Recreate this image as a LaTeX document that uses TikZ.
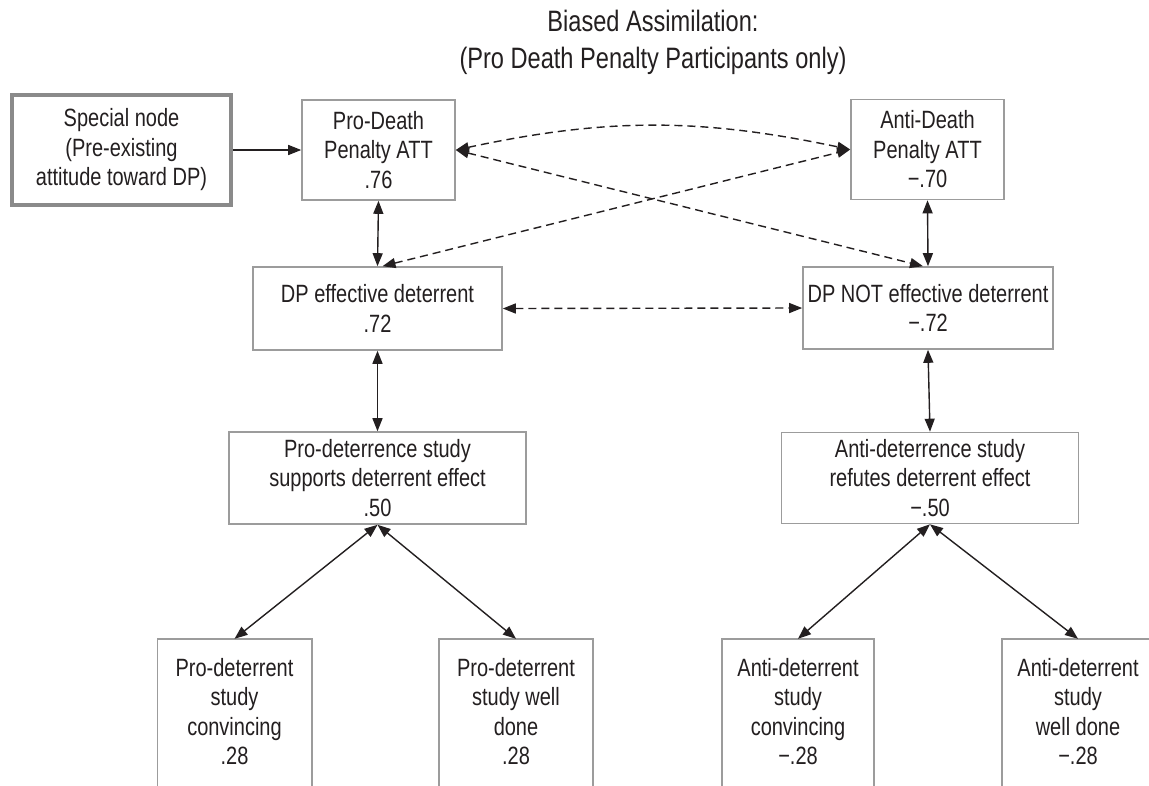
\documentclass[tikz,border=0pt]{standalone}
\usepackage{fontspec}
\setmainfont{Liberation Sans}[FakeStretch=0.8]
\usetikzlibrary{arrows.meta}
\definecolor{ink}{HTML}{231F20}
\definecolor{frame}{HTML}{9C9C9C}
\definecolor{heavyframe}{HTML}{8A8A8A}
\begin{document}
\begin{tikzpicture}[x=1pt,y=-1pt,
  >={Triangle[length=13pt,width=10pt]},
  every node/.style={text=ink, font=\fontsize{25}{29.5}\selectfont, align=center, inner sep=0pt},
  box/.style={draw=frame, line width=1.6pt},
  openframe/.style={draw=frame, line width=1.6pt},
  leaf/.style={minimum width=#1, minimum height=145pt},
  wire/.style={draw=ink, line width=1.4pt},
  dashwire/.style={wire, dash pattern=on 8pt off 5pt},
]
\useasboundingbox (0,0) rectangle (1149,785);
\fill[white] (0,0) rectangle (1149,785);

% heading
\node[font=\fontsize{29.5}{37}\selectfont] (title) at (653,42)
  {Biased Assimilation:\\(Pro Death Penalty Participants only)};

% attitude level
\node[draw=heavyframe, line width=3.8pt, minimum width=219pt, minimum height=110pt]
  (special) at (121.5,150) {Special node\\(Pre-existing\\attitude toward DP)};
\node[box, minimum width=153pt, minimum height=100pt] (prodp) at (378.5,150)
  {Pro-Death\\Penalty ATT\\.76};
\node[box, minimum width=153pt, minimum height=100pt] (antidp) at (927.5,149.5)
  {Anti-Death\\Penalty ATT\\−.70};

% belief level
\node[box, minimum width=249pt, minimum height=83pt] (dpeff) at (377.5,308.5)
  {DP effective deterrent\\.72};
\node[box, minimum width=250pt, minimum height=82pt] (dpnot) at (928,308)
  {DP NOT effective deterrent\\−.72};

% study level
\node[box, minimum width=297pt, minimum height=92pt] (prostudy) at (377.5,478)
  {Pro-deterrence study\\supports deterrent effect\\.50};
\node[box, minimum width=297pt, minimum height=91pt] (antistudy) at (930,478)
  {Anti-deterrence study\\refutes deterrent effect\\−.50};

% evaluation level (frames run off the lower edge)
\node[leaf=154pt] (pc1) at (234.5,711.5) {Pro-deterrent\\study\\convincing\\.28};
\node[leaf=154pt] (pc2) at (516,711.5) {Pro-deterrent\\study well\\done\\.28};
\node[leaf=152pt] (ac1) at (798,711.5) {Anti-deterrent\\study\\convincing\\−.28};
\node[leaf=152pt] (ac2) at (1078,711.5) {Anti-deterrent\\study\\well done\\−.28};
\foreach \n in {pc1,pc2,ac1,ac2}
  \draw[openframe] ([yshift=-10pt]\n.south west) -- (\n.north west)
    -- (\n.north east) -- ([yshift=-10pt]\n.south east);

% solid links
\draw[wire,->] (special.east) -- (prodp.west);
\draw[wire,<->] (prodp.south) -- (dpeff.north);
\draw[wire,<->] (antidp.south) -- (dpnot.north);
\draw[wire,<->] (dpeff.south) -- (prostudy.north);
\draw[wire,<->] (dpnot.south) -- (antistudy.north);
\draw[wire,<->] (prostudy.south) -- (pc1.north);
\draw[wire,<->] (prostudy.south) -- (pc2.north);
\draw[wire,<->] (antistudy.south) -- (ac1.north);
\draw[wire,<->] (antistudy.south) -- (ac2.north);

% dashed links
\draw[dashwire,<->] (prodp.east) to[bend left=12] (antidp.west);
\draw[dashwire,<->] (prodp.east) -- ([xshift=-5pt]dpnot.north);
\draw[dashwire,<->] ([xshift=5pt]dpeff.north) -- (antidp.west);
\draw[dashwire,<->] (dpeff.east) -- (dpnot.west);
\end{tikzpicture}
\end{document}
